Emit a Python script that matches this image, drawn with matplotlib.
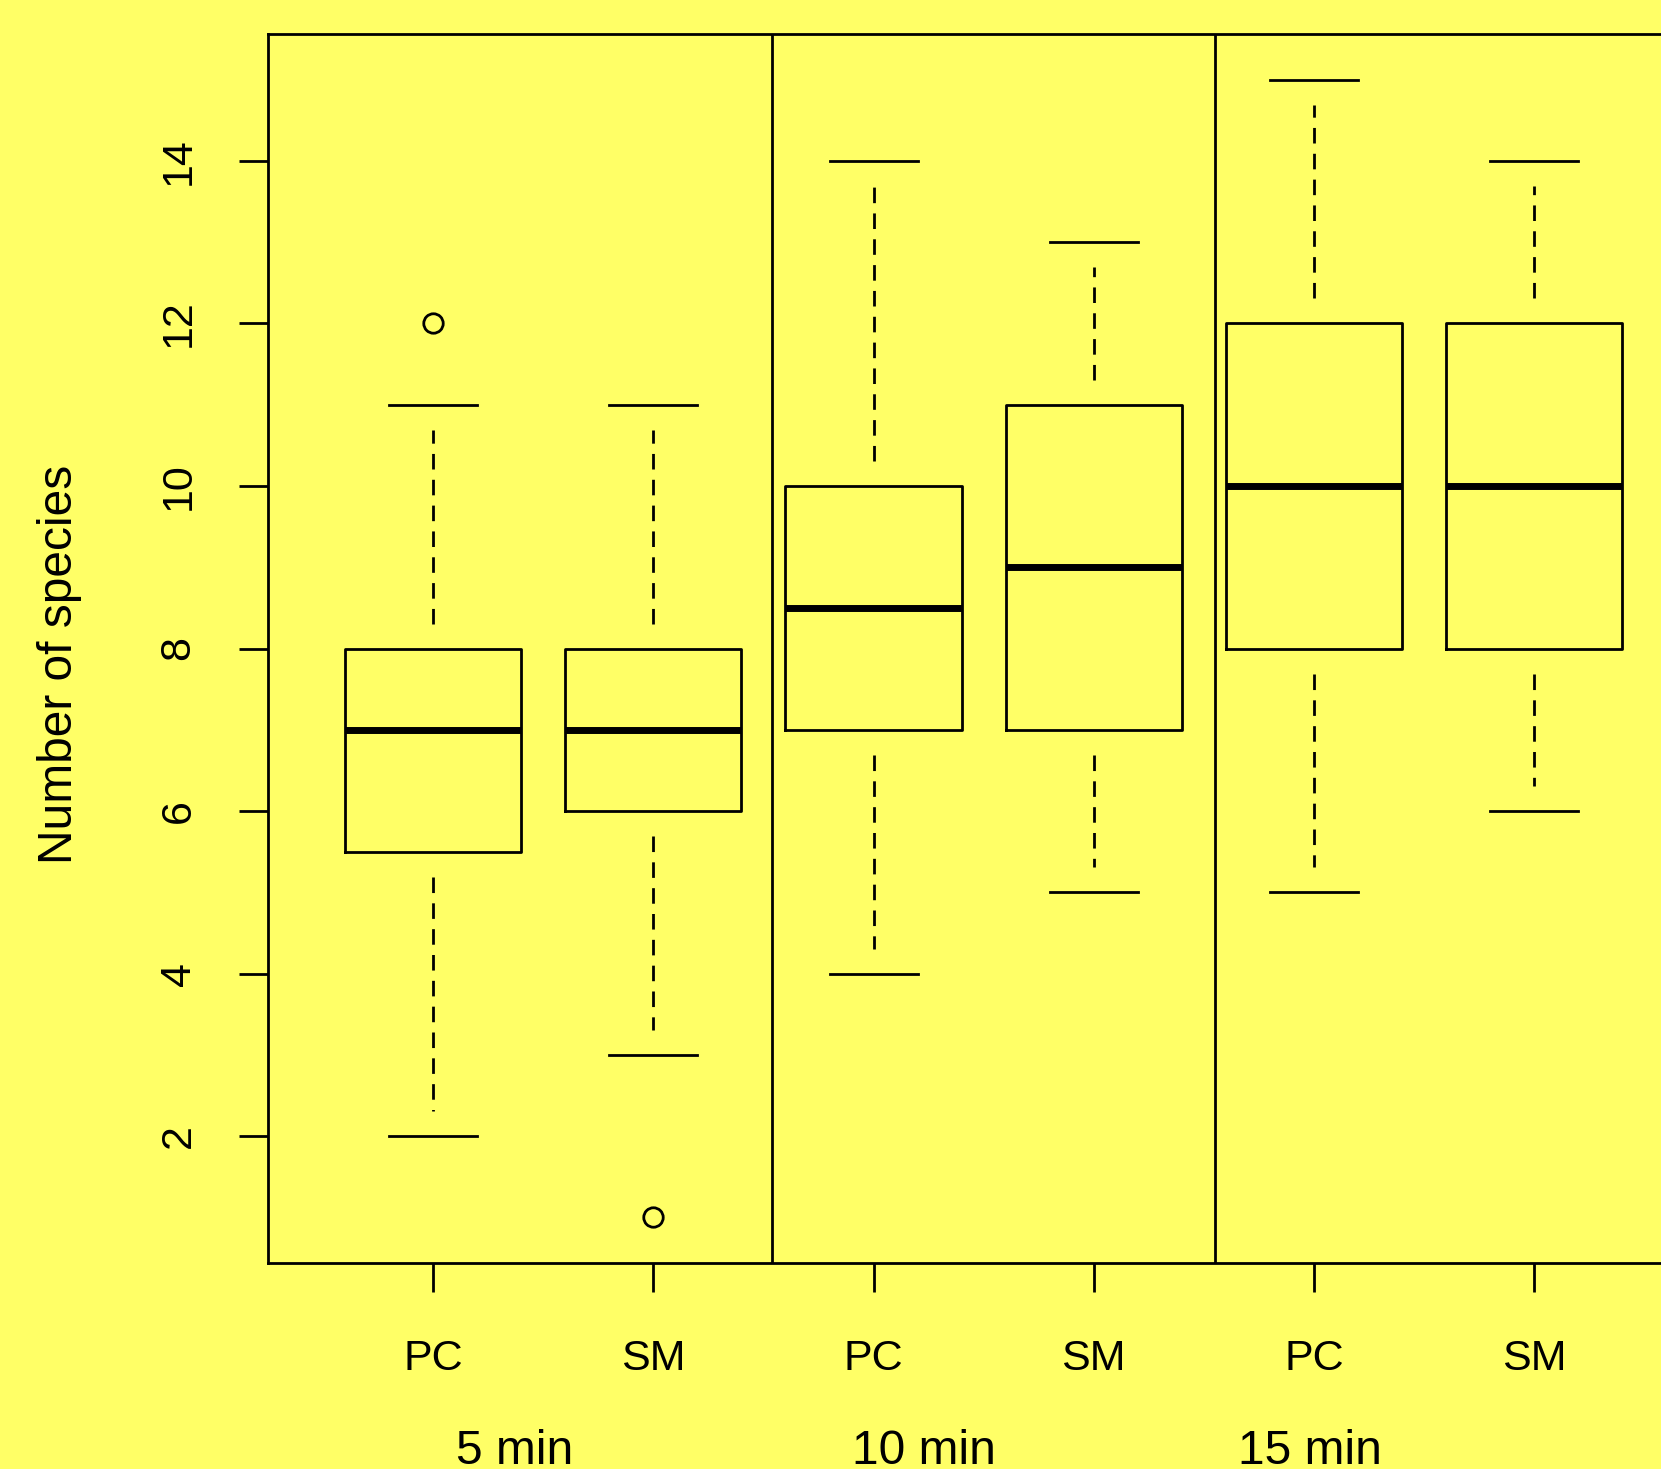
import matplotlib
matplotlib.use("Agg")
import matplotlib.pyplot as plt
from matplotlib.transforms import blended_transform_factory

# ─── Données ────────────────────────────────────────────────────────────────
methodes = ["PC", "SM", "PC", "SM", "PC", "SM"]
groupes = ["5 min", "10 min", "15 min"]

bas_moustache = [2, 3, 4, 5, 5, 6]
q1 = [5.5, 6, 7, 7, 8, 8]
mediane = [7, 7, 8.5, 9, 10, 10]
q3 = [8, 8, 10, 11, 12, 12]
haut_moustache = [11, 11, 14, 13, 15, 14]
aberrants = [[12], [1], [], [], [], []]

separations = [2.54, 4.55]
pos_groupes = [1.37, 3.23, 4.98]

# ─── Figure ─────────────────────────────────────────────────────────────────
JAUNE = "#FFFF66"
W, H, DPI = 1661, 1469, 100
plt.rcParams["font.family"] = ["Liberation Sans", "DejaVu Sans"]

fig = plt.figure(figsize=(W / DPI, H / DPI), dpi=DPI, facecolor=JAUNE)

# axes : gauche à 268 px, haut 34 px, bas 1263 px, 220.2 px par unité en x
x0, x1 = 0.25, 6.75
y0, y1 = 0.44, 15.56
gauche = 268 / W
largeur = (x1 - x0) * 220.2 / W
bas = 1 - 1263 / H
hauteur = (1263 - 34) / H
ax = fig.add_axes([gauche, bas, largeur, hauteur], facecolor=JAUNE)

stats = []
for i in range(len(methodes)):
    stats.append({
        "whislo": bas_moustache[i], "q1": q1[i], "med": mediane[i],
        "q3": q3[i], "whishi": haut_moustache[i], "fliers": aberrants[i],
    })

lw = 2.0
res = ax.bxp(stats, positions=range(1, 7), widths=0.8, capwidths=0.4,
             boxprops=dict(color="black", linewidth=lw),
             medianprops=dict(color="black", linewidth=5, solid_capstyle="butt"),
             whiskerprops=dict(color="black", linewidth=lw,
                               linestyle=(0, (5.6, 3.7)), dash_capstyle="butt"),
             capprops=dict(color="black", linewidth=lw),
             flierprops=dict(marker="o", markersize=14, markerfacecolor="none",
                             markeredgecolor="black", markeredgewidth=lw),
             manage_ticks=False)

# les pointillés s'arrêtent à ~25 px de la boîte et de la moustache
marge = 25 * (y1 - y0) / (1263 - 34)
for ligne in res["whiskers"]:
    a, b = ligne.get_ydata()
    sens = 1 if b > a else -1
    ligne.set_ydata([a + sens * marge, b - sens * marge])

for s in separations:
    ax.axvline(s, color="black", linewidth=lw)

ax.set_xlim(x0, x1)
ax.set_ylim(y0, y1)
ax.set_yticks([2, 4, 6, 8, 10, 12, 14])
ax.set_xticks(range(1, 7))
ax.set_xticklabels(methodes)
ax.tick_params(axis="both", length=21, width=lw, labelsize=31,
               direction="out", color="black")
ax.tick_params(axis="x", pad=34)
ax.tick_params(axis="y", pad=29)
for lab in ax.get_yticklabels():
    lab.set_rotation(90)
    lab.set_va("center")

for sp in ax.spines.values():
    sp.set_linewidth(lw)
    sp.set_color("black")

fig.text(60 / W, 1 - 664 / H, "Number of species", fontsize=34.5,
         rotation=90, ha="center", va="center")

# étiquettes de groupe, coupées en bas comme sur l'original
trans = blended_transform_factory(ax.transData, fig.transFigure)
for g, x in zip(groupes, pos_groupes):
    ax.text(x, 1 - 1464 / H, g, transform=trans, fontsize=34.5,
            ha="center", va="baseline")

fig.savefig("out.png", dpi=DPI, facecolor=JAUNE)
